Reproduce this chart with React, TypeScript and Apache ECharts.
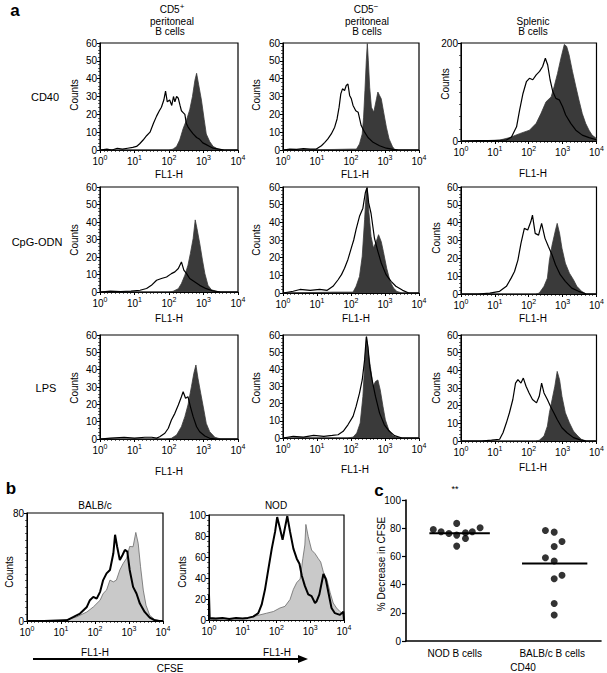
import React, { useEffect, useRef } from 'react';
import * as echarts from 'echarts';

const FONT = '"Liberation Sans", Arial, Helvetica, sans-serif';

// ---------- DATA: [log10(FL1-H), counts] ----------
// Panel a, CD40 row
const cd40Cd5PosOpen = [[0,0],[0.2,0.5],[0.35,0],[0.5,1],[0.65,0.5],[0.8,1],[0.95,1.5],[1.06,2],[1.15,3.5],[1.25,5.6],[1.35,8],[1.45,10],[1.55,15],[1.64,19],[1.72,22],[1.78,24],[1.85,28],[1.9,33],[1.95,27],[2.02,28],[2.08,25],[2.13,30],[2.17,27],[2.22,30],[2.27,29],[2.32,25],[2.36,22],[2.41,21],[2.46,20],[2.5,15],[2.55,13],[2.62,11],[2.7,9],[2.8,7],[2.89,6],[2.98,4],[3.08,3],[3.18,2],[3.28,1],[3.45,0.5],[3.6,0],[4,0]];
const cd40Cd5PosFilled = [[0,0],[2.0,0],[2.12,0.5],[2.22,2],[2.31,5.6],[2.41,12],[2.51,17],[2.6,22.5],[2.68,30],[2.75,39],[2.8,43],[2.86,36.6],[2.94,28],[3.02,17],[3.08,9],[3.18,4.7],[3.28,2],[3.42,0.5],[3.55,0],[4,0]];
const cd40Cd5NegOpen = [[0,0],[0.2,0.5],[0.4,0.3],[0.6,0.8],[0.8,0.5],[0.98,0.5],[1.13,2.4],[1.23,4.3],[1.32,6.2],[1.42,9],[1.52,12.8],[1.59,17.4],[1.65,24],[1.7,31.5],[1.75,34.3],[1.81,33.4],[1.86,36.2],[1.91,37],[1.96,30.6],[2.01,28.7],[2.06,25],[2.14,22],[2.21,21.2],[2.3,13.7],[2.4,10],[2.5,7],[2.65,4.3],[2.84,2.4],[3.04,1],[3.24,0.4],[3.4,0],[4,0]];
const cd40Cd5NegFilled = [[0,0],[1.5,0.3],[2.0,0.5],[2.16,0.5],[2.25,3.4],[2.33,9],[2.37,18.4],[2.41,33.4],[2.45,50],[2.48,59.7],[2.51,50],[2.55,35],[2.6,24],[2.67,21.2],[2.75,28.7],[2.79,32.5],[2.84,30.6],[2.89,28.7],[2.96,21.2],[3.04,12.8],[3.12,6.2],[3.22,1.9],[3.28,0.4],[3.4,0],[4,0]];
const cd40SplenicOpen = [[0,0],[0.5,1],[1.0,1],[1.34,2],[1.49,8],[1.64,29],[1.73,63],[1.83,97],[1.93,121],[2.02,128],[2.12,125],[2.22,135],[2.32,142],[2.41,152],[2.49,169],[2.56,155],[2.63,125],[2.71,101],[2.8,87],[2.9,84],[3.0,70],[3.09,53],[3.24,36],[3.39,22],[3.58,12],[3.78,7],[3.97,3],[4,2]];
const cd40SplenicFilled = [[0,0],[0.8,1],[1.15,2],[1.44,7],[1.73,15],[2.02,22],[2.22,36],[2.36,56],[2.51,80],[2.66,90],[2.75,111],[2.85,138],[2.95,169],[3.05,197],[3.12,193],[3.19,176],[3.29,142],[3.39,111],[3.48,84],[3.58,56],[3.68,36],[3.78,22],[3.87,12],[4.0,5]];
// Panel a, CpG-ODN row
const cpgCd5PosOpen = [[0,0],[0.3,0.5],[0.6,0.3],[0.9,0.5],[1.16,1],[1.35,2],[1.49,3.8],[1.64,6.7],[1.78,7.7],[1.93,8.6],[2.07,10.5],[2.17,11.5],[2.27,13.4],[2.36,17.2],[2.43,12.5],[2.51,10.5],[2.6,7.7],[2.75,5.7],[2.89,3.8],[3.08,1.9],[3.28,0.6],[3.5,0],[4,0]];
const cpgCd5PosFilled = [[0,0],[2.0,0],[2.12,0.4],[2.27,1.9],[2.36,4.8],[2.46,9.6],[2.55,15.3],[2.62,22],[2.7,30.6],[2.76,41.2],[2.81,36.4],[2.89,27.8],[2.97,18.2],[3.04,10.5],[3.13,3.8],[3.23,1.3],[3.37,0.4],[3.5,0],[4,0]];
const cpgCd5NegOpen = [[0,0],[0.3,1],[0.5,2],[0.8,1.5],[1.08,2],[1.3,1.5],[1.47,3.8],[1.62,7.5],[1.72,10.4],[1.81,14],[1.91,19],[2.01,25.5],[2.08,30],[2.15,36],[2.25,43.4],[2.35,48],[2.42,56.6],[2.47,59.4],[2.52,51],[2.59,45],[2.69,31],[2.79,23.6],[2.89,17],[3.03,10.4],[3.18,6.6],[3.32,3.8],[3.52,1.5],[3.7,0],[4,0]];
const cpgCd5NegFilled = [[0,0],[1.5,0.5],[2.06,0.5],[2.15,3.8],[2.25,9.4],[2.33,20.8],[2.4,41.5],[2.45,58.5],[2.48,60],[2.52,47],[2.59,32],[2.66,25.5],[2.74,29],[2.81,33],[2.89,29],[2.95,23.6],[3.05,14],[3.15,6.6],[3.25,2.8],[3.35,0.9],[3.5,0],[4,0]];
const cpgSplenicOpen = [[0,0],[0.5,0],[0.85,0.5],[1.14,1.5],[1.34,4.3],[1.48,8.9],[1.58,12.6],[1.68,19],[1.77,28.4],[1.87,36.8],[1.97,35.9],[2.06,40.5],[2.11,44.2],[2.19,34],[2.29,33],[2.38,39.6],[2.48,31.2],[2.58,26.6],[2.69,21.9],[2.79,16.4],[2.93,10.8],[3.08,7.1],[3.27,3.3],[3.47,1.5],[3.7,0],[4,0]];
const cpgSplenicFilled = [[0,0],[2.2,0],[2.31,0.5],[2.45,4.3],[2.55,8.9],[2.61,19],[2.69,27.5],[2.79,35.9],[2.84,39.6],[2.91,34],[2.98,25.7],[3.08,17.3],[3.2,11.7],[3.32,8],[3.42,4.3],[3.56,1.5],[3.7,0],[4,0]];
// Panel a, LPS row
const lpsCd5PosOpen = [[0,0],[0.3,0.5],[0.7,1],[1.0,0.5],[1.3,1],[1.5,1],[1.64,0.5],[1.73,1.3],[1.88,3.3],[1.98,6.2],[2.07,11],[2.17,14.8],[2.27,19.6],[2.36,24.4],[2.41,27.3],[2.48,23.5],[2.55,24.4],[2.62,18.7],[2.7,12.9],[2.8,7.1],[2.89,4.2],[3.04,1.7],[3.18,0.4],[3.4,0],[4,0]];
const lpsCd5PosFilled = [[0,0],[1.9,0],[2.07,0.4],[2.22,2.3],[2.36,7.1],[2.46,12.9],[2.55,19.6],[2.65,30.2],[2.72,37.9],[2.78,42.7],[2.84,35],[2.92,26.3],[3.01,16.7],[3.08,9],[3.18,4.2],[3.33,1],[3.5,0],[4,0]];
const lpsCd5NegOpen = [[0,0],[0.3,1],[0.6,0.5],[0.9,1.5],[1.2,1],[1.45,1.5],[1.62,1.9],[1.77,3.9],[1.91,7.7],[2.06,12.6],[2.15,18.4],[2.25,26.1],[2.33,33.8],[2.4,45.5],[2.45,59],[2.5,53],[2.55,41.6],[2.62,33.8],[2.72,24.2],[2.84,14.5],[2.98,7.7],[3.13,3.9],[3.28,1.4],[3.5,0],[4,0]];
const lpsCd5NegFilled = [[0,0],[1.9,0],[2.06,0.5],[2.17,2.9],[2.27,8.7],[2.35,24.2],[2.41,45.5],[2.46,59],[2.51,49.3],[2.57,41.6],[2.65,30],[2.72,32.9],[2.79,33.8],[2.86,28],[2.94,18.4],[3.01,10.6],[3.11,4.8],[3.23,1.4],[3.32,0.4],[3.45,0],[4,0]];
const lpsSplenicOpen = [[0,0],[0.6,0],[0.9,0.5],[1.14,1],[1.24,4.7],[1.34,10.3],[1.43,16],[1.53,23.5],[1.61,32.8],[1.68,34.7],[1.77,32.8],[1.84,35.6],[1.92,31],[2.01,27.2],[2.11,23.5],[2.23,21.6],[2.31,25.3],[2.38,32.8],[2.45,27.2],[2.55,23.5],[2.64,19.7],[2.74,16],[2.84,12.2],[2.98,7.5],[3.13,4.7],[3.32,1.9],[3.52,0.6],[3.7,0],[4,0]];
const lpsSplenicFilled = [[0,0],[2.2,0],[2.31,0.4],[2.45,2.8],[2.55,8.4],[2.61,16],[2.69,23.5],[2.77,31],[2.84,39.4],[2.91,34.7],[2.98,25.3],[3.08,16],[3.2,10.3],[3.32,5.6],[3.45,2.8],[3.56,0.9],[3.7,0],[4,0]];
// Panel b, CFSE
const balbStimOpen = [[0,0],[0.5,0],[0.9,0.3],[1.17,0.5],[1.37,3],[1.56,5.5],[1.76,10.4],[1.85,15.4],[1.95,17.9],[2.05,16.6],[2.15,21.6],[2.24,30.3],[2.34,35.3],[2.44,37.8],[2.54,50.2],[2.59,63.9],[2.65,55.2],[2.73,45.2],[2.81,48.9],[2.88,52.7],[2.95,51.4],[3.02,37.8],[3.12,25.3],[3.22,20.4],[3.32,12.9],[3.46,6.7],[3.61,2.5],[3.76,0.5],[3.9,0],[4,0]];
const balbCtrlFilled = [[0,0],[0.88,0.2],[1.17,1],[1.46,3],[1.76,6.7],[1.95,10.4],[2.15,15.4],[2.24,20.4],[2.34,22.9],[2.44,30.3],[2.54,29],[2.63,30.3],[2.73,37.8],[2.83,42.7],[2.93,46.5],[3.02,55.2],[3.12,55],[3.2,65.6],[3.27,57.6],[3.34,40.2],[3.42,22.9],[3.5,11.7],[3.61,4.2],[3.76,1],[3.9,0.2],[4,0]];
const nodStimOpen = [[0,0],[0,24],[0.02,2],[0.2,1.5],[0.4,2],[0.6,1],[0.8,2],[1.0,1.5],[1.15,2],[1.31,3.2],[1.46,6.5],[1.56,14.6],[1.66,29.2],[1.76,48.7],[1.86,68],[1.96,84.4],[2.02,98],[2.1,87.7],[2.18,76.3],[2.25,87.7],[2.32,99],[2.4,84.4],[2.5,68],[2.6,58.4],[2.68,53.6],[2.75,42.2],[2.84,32.5],[2.94,24.4],[3.04,22.7],[3.14,16.2],[3.19,17.9],[3.27,24.4],[3.34,35.7],[3.39,43.8],[3.46,39],[3.54,26],[3.63,11.4],[3.73,6.5],[3.88,4.9],[3.98,8],[4,0]];
const nodCtrlFilled = [[0,0],[0.3,1],[0.6,1.5],[0.9,1],[1.2,2.5],[1.51,4.9],[1.71,6.5],[1.91,8.1],[2.1,11.4],[2.25,13],[2.4,19.5],[2.5,29.2],[2.6,35.7],[2.7,39],[2.78,58.4],[2.84,71.4],[2.87,91],[2.94,79.5],[3.04,66.6],[3.14,63.3],[3.24,58.4],[3.31,55.2],[3.39,45.5],[3.49,39],[3.59,26],[3.68,16.2],[3.78,11.4],[3.88,8.1],[3.98,4.9],[4,0]];
// Panel c, % decrease in CFSE (CD40)
const cGroups = ['NOD B cells', 'BALB/c B cells'];
const nodDecrease = [79.1, 77.5, 76.3, 83.4, 75.1, 67.3, 72.7, 76.8, 77.5, 80.3];
const balbDecrease = [78.4, 77.2, 70.6, 67, 59, 56.7, 46.6, 44.2, 26.6, 18.4];
const groupMedians = [76.5, 55];
const decadeTicks = [0, 1, 2, 3, 4];
const cTickLabels = ['0', '20', '40', '60', '80', '100'];

// ---------- LAYOUT ----------
const nodJitterX = [0.28, 0.36, 0.44, 0.52, 0.52, 0.52, 0.61, 0.61, 0.68, 0.76];
const balbJitterX = [1.43, 1.52, 1.6, 1.52, 1.43, 1.52, 1.6, 1.52, 1.52, 1.52];
const medianSpans = [[0.24, 0.86], [1.19, 1.86]];

const DARK = '#3a3a3a';
const LIGHT = '#c9c9c9';

const panels = [
  { rect: [100, 43, 138, 107], ymax: 60, yint: 10, minor: 5, open: cd40Cd5PosOpen, filled: cd40Cd5PosFilled, kind: 'a' },
  { rect: [283, 43, 136, 107], ymax: 60, yint: 10, minor: 5, open: cd40Cd5NegOpen, filled: cd40Cd5NegFilled, kind: 'a' },
  { rect: [461, 43, 137, 98], ymax: 200, yint: 200, minor: 8, open: cd40SplenicOpen, filled: cd40SplenicFilled, kind: 'a' },
  { rect: [100, 187, 138, 105], ymax: 60, yint: 10, minor: 5, open: cpgCd5PosOpen, filled: cpgCd5PosFilled, kind: 'a' },
  { rect: [283, 187, 136, 106], ymax: 60, yint: 10, minor: 5, open: cpgCd5NegOpen, filled: cpgCd5NegFilled, kind: 'a' },
  { rect: [461, 187, 137, 107], ymax: 60, yint: 10, minor: 5, open: cpgSplenicOpen, filled: cpgSplenicFilled, kind: 'a' },
  { rect: [100, 335, 138, 104], ymax: 60, yint: 10, minor: 5, open: lpsCd5PosOpen, filled: lpsCd5PosFilled, kind: 'a' },
  { rect: [283, 335, 136, 103], ymax: 60, yint: 10, minor: 5, open: lpsCd5NegOpen, filled: lpsCd5NegFilled, kind: 'a' },
  { rect: [461, 335, 137, 106], ymax: 60, yint: 10, minor: 5, open: lpsSplenicOpen, filled: lpsSplenicFilled, kind: 'a' },
  { rect: [27, 513, 136, 108], ymax: 80, yint: 80, minor: 16, open: balbStimOpen, filled: balbCtrlFilled, kind: 'b' },
  { rect: [209, 515, 135, 105], ymax: 100, yint: 20, minor: 4, open: nodStimOpen, filled: nodCtrlFilled, kind: 'b' },
];

const RICH = {
  b: { fontSize: 10, fontFamily: FONT, color: '#000', lineHeight: 14 },
  s: { fontSize: 7, fontFamily: FONT, color: '#000', verticalAlign: 'top' },
};

function txt(x: number, y: number, text: string, size = 10, opts: any = {}) {
  return {
    type: 'text',
    x,
    y,
    rotation: opts.rot || 0,
    silent: true,
    style: {
      text,
      fontSize: size,
      fontFamily: FONT,
      fontWeight: opts.bold ? 'bold' : 'normal',
      fill: '#000',
      align: opts.align || 'center',
      verticalAlign: 'middle',
      rich: opts.rich,
    },
  };
}

const supRich = {
  n: { fontSize: 10, fontFamily: FONT, fill: '#000', lineHeight: 13 },
  s: { fontSize: 8, fontFamily: FONT, fill: '#000', verticalAlign: 'top' },
};

export default function App() {
  const ref = useRef<HTMLDivElement>(null);
  useEffect(() => {
    const chart = echarts.init(ref.current!, null, { renderer: 'svg' });
    const grids: any[] = [];
    const xAxes: any[] = [];
    const yAxes: any[] = [];
    const series: any[] = [];

    panels.forEach((p, i) => {
      const [left, top, width, height] = p.rect;
      grids.push({ left, top, width, height, show: true, borderColor: '#000', borderWidth: 1.2, backgroundColor: 'transparent' });
      xAxes.push({
        type: 'value', gridIndex: i, min: decadeTicks[0], max: decadeTicks[decadeTicks.length - 1], interval: 1,
        axisLine: { show: true, onZero: false, lineStyle: { color: '#000', width: 1 } },
        axisTick: { show: true, length: 3, lineStyle: { color: '#000' } },
        minorTick: { show: true, splitNumber: 9, length: 2, lineStyle: { color: '#000', width: 0.6 } },
        splitLine: { show: false },
        axisLabel: { margin: 4, formatter: (v: number) => `{b|10}{s|${v}}`, rich: RICH },
      });
      yAxes.push({
        type: 'value', gridIndex: i, min: 0, max: p.ymax, interval: p.yint,
        axisLine: { show: true, lineStyle: { color: '#000', width: 1 } },
        axisTick: { show: true, length: 3, lineStyle: { color: '#000' } },
        minorTick: { show: true, splitNumber: p.minor, length: 2, lineStyle: { color: '#000', width: 0.6 } },
        splitLine: { show: false },
        axisLabel: { margin: 3, fontSize: 10, fontFamily: FONT, color: '#000' },
      });
      const isB = p.kind === 'b';
      series.push({
        type: 'line', xAxisIndex: i, yAxisIndex: i, data: p.filled, symbol: 'none', silent: true, z: 2,
        lineStyle: { color: isB ? '#6a6a6a' : DARK, width: 0.8 },
        areaStyle: { color: isB ? LIGHT : DARK, opacity: 1 },
      });
      series.push({
        type: 'line', xAxisIndex: i, yAxisIndex: i, data: p.open, symbol: 'none', silent: true, z: 3,
        lineStyle: { color: '#000', width: isB ? 2 : 1.2 },
      });
    });

    // Panel c
    const ci = panels.length;
    grids.push({ left: 406, top: 500, width: 195, height: 141, show: false });
    xAxes.push({
      type: 'value', gridIndex: ci, min: 0, max: 2, interval: 0.5,
      axisLine: { show: true, onZero: false, lineStyle: { color: '#000', width: 1.6 } },
      axisTick: { show: false }, splitLine: { show: false },
      axisLabel: {
        margin: 7, fontSize: 10, fontFamily: FONT, color: '#000', showMinLabel: false, showMaxLabel: false,
        formatter: (v: number) => (v === 0.5 ? cGroups[0] : v === 1.5 ? cGroups[1] : ''),
      },
    });
    yAxes.push({
      type: 'value', gridIndex: ci, min: 0, max: 100, interval: 20,
      axisLine: { show: true, onZero: false, lineStyle: { color: '#000', width: 1.6 } },
      axisTick: { show: true, length: 4, lineStyle: { color: '#000', width: 1.2 } },
      splitLine: { show: false },
      axisLabel: { show: false },
    });
    series.push({
      type: 'scatter', xAxisIndex: ci, yAxisIndex: ci, symbolSize: 7, silent: true,
      itemStyle: { color: '#000' }, data: nodDecrease.map((v, k) => [nodJitterX[k], v]),
    });
    series.push({
      type: 'scatter', xAxisIndex: ci, yAxisIndex: ci, symbolSize: 7, silent: true,
      itemStyle: { color: '#000' }, data: balbDecrease.map((v, k) => [balbJitterX[k], v]),
    });
    groupMedians.forEach((m, k) => {
      series.push({
        type: 'line', xAxisIndex: ci, yAxisIndex: ci, symbol: 'none', silent: true,
        lineStyle: { color: '#000', width: 2 },
        data: [[medianSpans[k][0], m], [medianSpans[k][1], m]],
      });
    });

    const graphic: any[] = [
      txt(15, 10, 'a', 17, { bold: true }),
      txt(172, 9, '{n|CD5}{s|+}', 10, { rich: supRich }),
      txt(172, 21, 'peritoneal'),
      txt(170, 31, 'B cells'),
      txt(366, 9, '{n|CD5}{s|−}', 10, { rich: supRich }),
      txt(367, 21, 'peritoneal'),
      txt(367, 31, 'B cells'),
      txt(533, 21, 'Splenic'),
      txt(533, 31, 'B cells'),
      txt(45, 97, 'CD40', 11),
      txt(37, 242, 'CpG-ODN', 11),
      txt(46, 388, 'LPS', 11),
      // Counts labels
      txt(74, 95, 'Counts', 10, { rot: Math.PI / 2 }),
      txt(256, 95, 'Counts', 10, { rot: Math.PI / 2 }),
      txt(445, 84, 'Counts', 10, { rot: Math.PI / 2 }),
      txt(74, 240, 'Counts', 10, { rot: Math.PI / 2 }),
      txt(256, 240, 'Counts', 10, { rot: Math.PI / 2 }),
      txt(436, 238, 'Counts', 10, { rot: Math.PI / 2 }),
      txt(74, 388, 'Counts', 10, { rot: Math.PI / 2 }),
      txt(256, 388, 'Counts', 10, { rot: Math.PI / 2 }),
      txt(436, 388, 'Counts', 10, { rot: Math.PI / 2 }),
      txt(9, 572, 'Counts', 10, { rot: Math.PI / 2 }),
      txt(182, 572, 'Counts', 10, { rot: Math.PI / 2 }),
      // FL1-H labels
      txt(169, 174, 'FL1-H'),
      txt(355, 174, 'FL1-H'),
      txt(533, 173, 'FL1-H'),
      txt(169, 318, 'FL1-H'),
      txt(356, 318, 'FL1-H'),
      txt(533, 318, 'FL1-H'),
      txt(169, 471, 'FL1-H'),
      txt(355, 469, 'FL1-H'),
      txt(533, 467, 'FL1-H'),
      txt(95, 652, 'FL1-H'),
      txt(277, 652, 'FL1-H'),
      // panel b
      txt(11, 488, 'b', 17, { bold: true }),
      txt(95, 505, 'BALB/c'),
      txt(276, 505, 'NOD'),
      {
        type: 'line', silent: true,
        shape: { x1: 33, y1: 659, x2: 300, y2: 659 },
        style: { stroke: '#000', lineWidth: 2 },
      },
      {
        type: 'polygon', silent: true,
        shape: { points: [[298, 655], [308, 659], [298, 663]] },
        style: { fill: '#000' },
      },
      txt(170, 668, 'CFSE'),
      // panel c
      txt(379, 490, 'c', 17, { bold: true }),
      txt(455, 489, '**', 9),
      txt(381, 564, '% Decrease in CFSE', 10, { rot: Math.PI / 2 }),
      txt(523, 667, 'CD40'),
      // panel c y tick labels, placed at the y axis ticks (0..100 over 141 px)
      ...cTickLabels.map((t, k) => txt(401, 641 - k * 28.2, t, 10, { align: 'right' })),
    ];

    chart.setOption({
      animation: false,
      backgroundColor: '#fff',
      textStyle: { fontFamily: FONT },
      grid: grids,
      xAxis: xAxes,
      yAxis: yAxes,
      series,
      graphic,
    });
    return () => chart.dispose();
  }, []);
  return (
    <div
      ref={ref}
      style={{ position: 'absolute', left: 0, top: 0, width: 607, height: 673, background: '#fff' }}
    />
  );
}
